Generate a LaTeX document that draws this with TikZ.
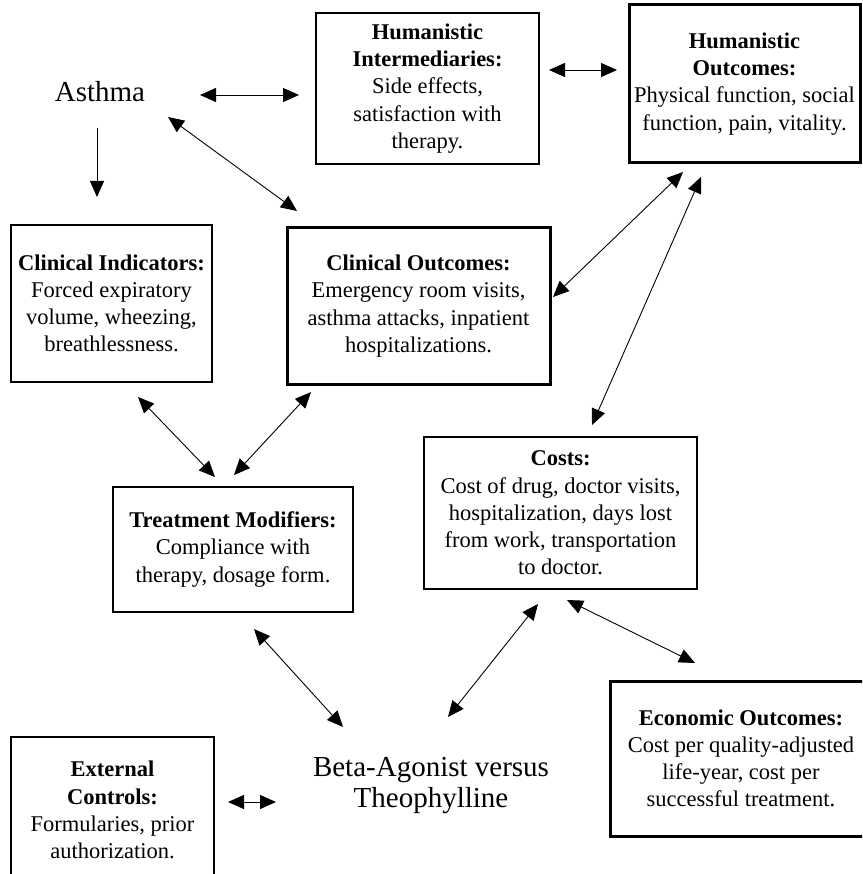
\documentclass[tikz,border=0pt]{standalone}
\usepackage{fontspec}
\setmainfont{Liberation Serif}
\usetikzlibrary{arrows.meta}
\newcommand\bodyfnt{\fontsize{22.5}{27.2}\selectfont}
\newcommand\bigfnt{\fontsize{29}{31}\selectfont}
\tikzset{
  thinbox/.style={draw, line width=1.1pt, inner sep=0pt, align=center, font=\bodyfnt},
  thickbox/.style={draw, line width=3pt, inner sep=0pt, align=center, font=\bodyfnt},
  plain/.style={inner sep=0pt, align=center, font=\bigfnt},
  conn/.style={line width=0.9pt, {Triangle[length=16pt,width=14pt]}-{Triangle[length=16pt,width=14pt]}},
  oneway/.style={line width=0.9pt, -{Triangle[length=16pt,width=14pt]}}
}
\begin{document}
\begin{tikzpicture}[x=1pt,y=-1pt]
\useasboundingbox (0,0) rectangle (862,874);
\clip (0,0) rectangle (862,874);
\fill[white] (0,0) rectangle (862,874);

\node[plain] (asthma) at (100,92) {Asthma};
\node[plain] (beta) at (431,786) {Beta-Agonist versus\\Theophylline};

\node[thinbox, minimum width=223pt, minimum height=151pt] (humint) at (427.5,88.5)
  {\textbf{Humanistic}\\\textbf{Intermediaries:}\\Side effects,\\satisfaction with\\therapy.};
\node[thickbox, minimum width=231pt, minimum height=158pt] (humout) at (744.5,84)
  {\textbf{Humanistic}\\\textbf{Outcomes:}\\Physical function, social\\function, pain, vitality.};
\node[thinbox, minimum width=201pt, minimum height=157pt] (clinind) at (111.5,303.5)
  {\textbf{Clinical Indicators:}\\Forced expiratory\\volume, wheezing,\\breathlessness.};
\node[thickbox, minimum width=263pt, minimum height=156pt] (clinout) at (418.5,306)
  {\textbf{Clinical Outcomes:}\\Emergency room visits,\\asthma attacks, inpatient\\hospitalizations.};
\node[thinbox, minimum width=273pt, minimum height=152pt] (costs) at (560.5,513)
  {\textbf{Costs:}\\Cost of drug, doctor visits,\\hospitalization, days lost\\from work, transportation\\to doctor.};
\node[thinbox, minimum width=240pt, minimum height=125pt] (treat) at (233,549.5)
  {\textbf{Treatment Modifiers:}\\Compliance with\\therapy, dosage form.};
\node[thinbox, minimum width=203pt, minimum height=146pt] (ext) at (112.5,810)
  {\textbf{External}\\\textbf{Controls:}\\Formularies, prior\\authorization.};
\node[thickbox, minimum width=262pt, minimum height=155pt] (econ) at (741,758.5)
  {\textbf{Economic Outcomes:}\\Cost per quality-adjusted\\life-year, cost per\\successful treatment.};

% connector end points
\coordinate (asthmaE) at (200,95);   \coordinate (humintW) at (299,95);
\coordinate (humintE) at (549,70);   \coordinate (humoutW) at (617,70);
\coordinate (asthmaS) at (97,128);   \coordinate (clinindN) at (97,197);
\coordinate (asthmaSE) at (168,117); \coordinate (clinoutNW) at (297,211);
\coordinate (humoutSW) at (683,172); \coordinate (clinoutE) at (553,297);
\coordinate (humoutS) at (701,177);  \coordinate (costsN) at (592,425);
\coordinate (clinindS) at (138,397); \coordinate (treatNa) at (215,477);
\coordinate (clinoutSW) at (311,392);\coordinate (treatNb) at (234,475);
\coordinate (treatS) at (254,629);   \coordinate (betaNW) at (343,727);
\coordinate (costsSW) at (538,604);  \coordinate (betaNE) at (448,717);
\coordinate (costsS) at (567,600);   \coordinate (econN) at (695,663);
\coordinate (extE) at (228,802);     \coordinate (betaW) at (276,802);

\draw[conn] (asthmaE) -- (humintW);
\draw[conn] (humintE) -- (humoutW);
\draw[oneway] (asthmaS) -- (clinindN);
\draw[conn] (asthmaSE) -- (clinoutNW);
\draw[conn] (humoutSW) -- (clinoutE);
\draw[conn] (humoutS) -- (costsN);
\draw[conn] (clinindS) -- (treatNa);
\draw[conn] (clinoutSW) -- (treatNb);
\draw[conn] (treatS) -- (betaNW);
\draw[conn] (costsSW) -- (betaNE);
\draw[conn] (costsS) -- (econN);
\draw[conn] (extE) -- (betaW);
\end{tikzpicture}
\end{document}
